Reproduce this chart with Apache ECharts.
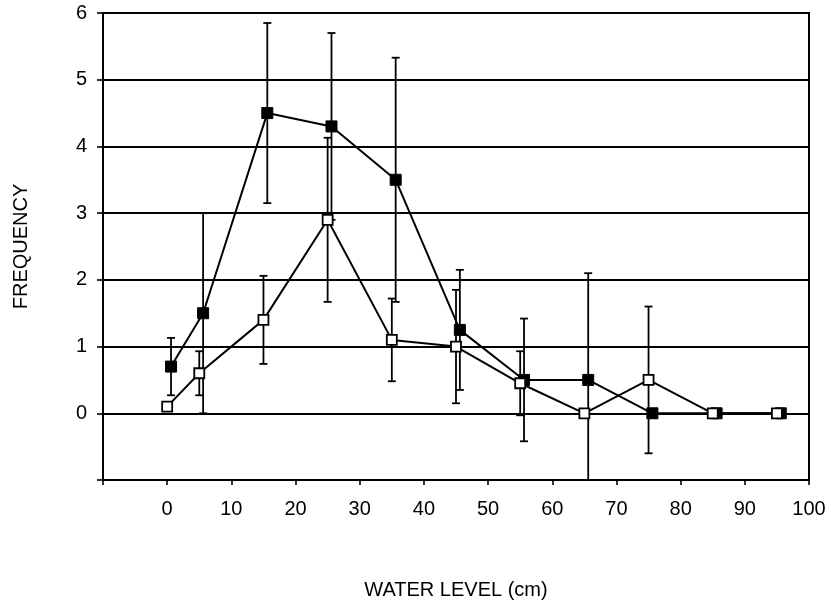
<!DOCTYPE html>
<html>
<head>
<meta charset="utf-8">
<script src="https://cdn.jsdelivr.net/npm/echarts@6/dist/echarts.min.js"></script>
<style>
  html, body { margin: 0; padding: 0; background: #fff; }
  #chart { width: 832px; height: 605px; }
</style>
</head>
<body>
<div id="chart"></div>
<script>
// water level (cm), the filled series is plotted a bit to the right
const levelsOpen = [0, 5, 15, 25, 35, 45, 55, 65, 75, 85, 95]
const levelsFilled = [0.6, 5.6, 15.6, 25.6, 35.6, 45.6, 55.6, 65.6, 75.6, 85.6, 95.6]

const freqFilled = [0.7, 1.5, 4.5, 4.3, 3.5, 1.25, 0.5, 0.5, 0, 0, 0]
const errFilled = [0.43, 1.5, 1.35, 1.4, 1.83, 0.9, 0.92, 1.6, 0, 0, 0]

const freqOpen = [0.1, 0.6, 1.4, 2.9, 1.1, 1.0, 0.45, 0, 0.5, 0, 0]
const errOpen = [0, 0.33, 0.66, 1.23, 0.62, 0.85, 0.48, 0, 1.1, 0, 0]

const xTicks = [-10, 0, 10, 20, 30, 40, 50, 60, 70, 80, 90, 100]
const yTicks = [-1, 0, 1, 2, 3, 4, 5, 6]

const FONT = 'Liberation Sans'

function pairs(xs, ys) {
  return xs.map((x, i) => [x, ys[i]])
}

function errData(xs, ys, es) {
  const out = []
  xs.forEach((x, i) => {
    if (es[i] > 0) out.push([x, ys[i] - es[i], ys[i] + es[i]])
  })
  return out
}

function renderErr(params, api) {
  const x = api.value(0)
  const lo = api.coord([x, api.value(1)])
  const hi = api.coord([x, api.value(2)])
  const cap = 4
  const style = { stroke: '#000', lineWidth: 1.8 }
  return {
    type: 'group',
    children: [
      { type: 'line', shape: { x1: lo[0], y1: lo[1], x2: hi[0], y2: hi[1] }, style: style },
      { type: 'line', shape: { x1: hi[0] - cap, y1: hi[1], x2: hi[0] + cap, y2: hi[1] }, style: style },
      { type: 'line', shape: { x1: lo[0] - cap, y1: lo[1], x2: lo[0] + cap, y2: lo[1] }, style: style }
    ]
  }
}

const chart = echarts.init(document.getElementById('chart'))
chart.setOption({
  animation: false,
  backgroundColor: '#fff',
  grid: {
    left: 103,
    right: 23,
    top: 13,
    bottom: 123,
    show: true,
    borderColor: '#000',
    borderWidth: 2
  },
  xAxis: {
    type: 'value',
    min: xTicks[0],
    max: xTicks[xTicks.length - 1],
    interval: 10,
    name: 'WATER LEVEL (cm)',
    nameLocation: 'middle',
    nameGap: 100,
    nameTextStyle: { fontFamily: FONT, fontSize: 20, color: '#000' },
    axisLine: { onZero: false, lineStyle: { color: '#000', width: 2 } },
    axisTick: { show: true, length: 5, lineStyle: { color: '#000', width: 1.6 } },
    axisLabel: {
      margin: 19,
      fontFamily: FONT,
      fontSize: 20,
      color: '#000',
      formatter: v => (v < 0 ? '' : String(v))
    },
    splitLine: { show: false }
  },
  yAxis: {
    type: 'value',
    min: yTicks[0],
    max: yTicks[yTicks.length - 1],
    interval: 1,
    name: 'FREQUENCY',
    nameLocation: 'middle',
    nameGap: 72,
    nameRotate: 90,
    nameTextStyle: { fontFamily: FONT, fontSize: 20, color: '#000' },
    axisLine: { onZero: false, lineStyle: { color: '#000', width: 2 } },
    axisTick: { show: true, length: 6, lineStyle: { color: '#000', width: 1.6 } },
    axisLabel: {
      margin: 16,
      fontFamily: FONT,
      fontSize: 20,
      color: '#000',
      formatter: v => (v < 0 ? '' : String(v))
    },
    splitLine: { show: true, lineStyle: { color: '#000', width: 2 } }
  },
  series: [
    {
      name: 'err-filled',
      type: 'custom',
      renderItem: renderErr,
      data: errData(levelsFilled, freqFilled, errFilled),
      encode: { x: 0, y: [1, 2] },
      clip: true,
      z: 2
    },
    {
      name: 'err-open',
      type: 'custom',
      renderItem: renderErr,
      data: errData(levelsOpen, freqOpen, errOpen),
      encode: { x: 0, y: [1, 2] },
      clip: true,
      z: 2
    },
    {
      name: 'filled',
      type: 'line',
      data: pairs(levelsFilled, freqFilled),
      symbol: 'rect',
      symbolSize: 11,
      showAllSymbol: true,
      lineStyle: { color: '#000', width: 2 },
      itemStyle: { color: '#000', borderColor: '#000', borderWidth: 1 },
      z: 3
    },
    {
      name: 'open',
      type: 'line',
      data: pairs(levelsOpen, freqOpen),
      symbol: 'rect',
      symbolSize: 10,
      showAllSymbol: true,
      lineStyle: { color: '#000', width: 2 },
      itemStyle: { color: '#fff', borderColor: '#000', borderWidth: 1.8 },
      z: 4
    }
  ]
})
</script>
</body>
</html>
